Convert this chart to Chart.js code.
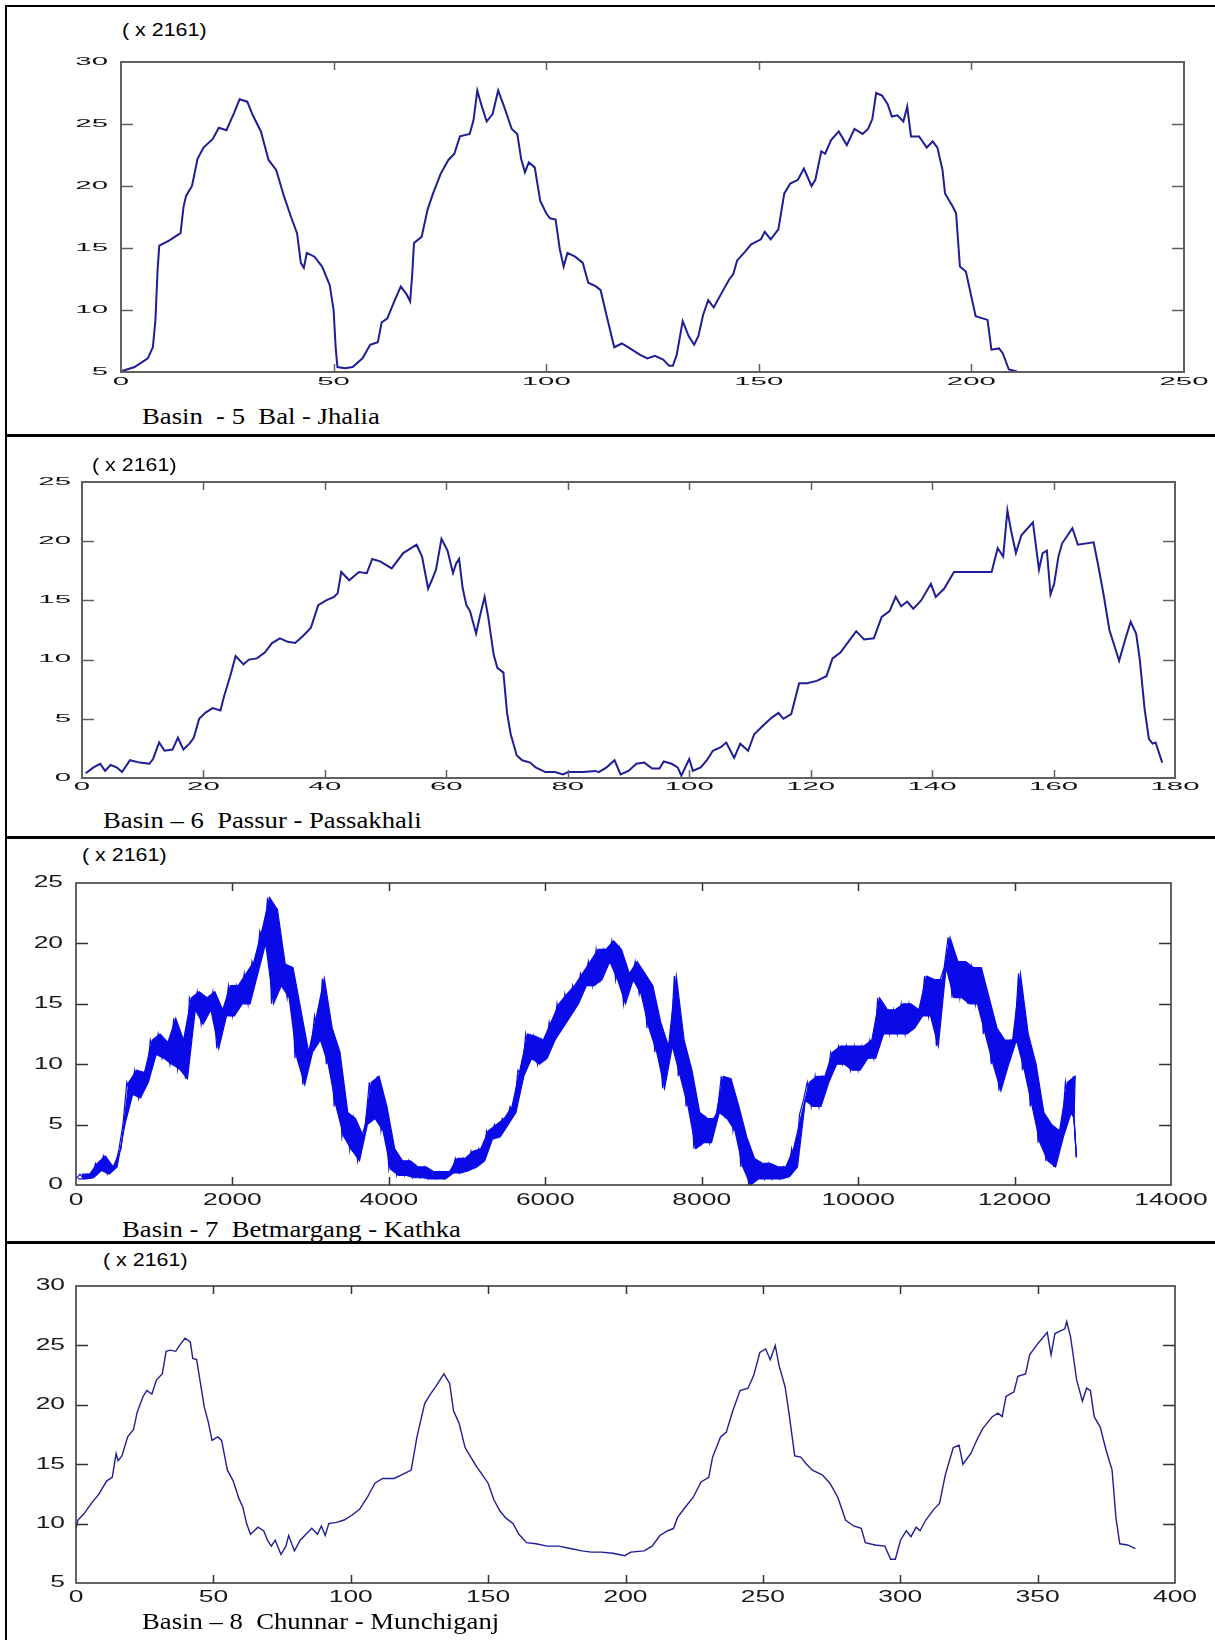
<!DOCTYPE html>
<html>
<head>
<meta charset="utf-8">
<script src="https://cdn.jsdelivr.net/npm/chart.js@4.4.1/dist/chart.umd.min.js"></script>
<style>
  body { margin: 0; background: #fff; width: 1215px; height: 1640px; position: relative; overflow: hidden; }
  .frame { position: absolute; left: 5px; top: 5px; width: 1215px; height: 1640px; border-left: 2px solid #000; border-top: 2px solid #000; }
  .rule { position: absolute; left: 5px; width: 1215px; height: 3px; background: #000; }
  .mult { position: absolute; font-family: "Liberation Sans", Arial, sans-serif; font-size: 18px; line-height: 20px;
          transform: scaleX(1.19); transform-origin: 0 50%; white-space: pre; color: #000; }
  .caption { position: absolute; font-family: "Liberation Serif", "Times New Roman", serif; font-size: 23px; line-height: 26px;
             transform: scaleX(1.16); transform-origin: 0 50%; white-space: pre; color: #000; }
  canvas { position: absolute; }
</style>
</head>
<body>
<div class="frame"></div>
<div class="rule" style="top:434px"></div>
<div class="rule" style="top:836px"></div>
<div class="rule" style="top:1241px"></div>

<canvas id="basin5"></canvas>
<canvas id="basin6"></canvas>
<canvas id="basin7"></canvas>
<canvas id="basin8"></canvas>

<div class="mult" style="left:122px;top:20px">( x 2161)</div>
<div class="mult" style="left:92px;top:455px">( x 2161)</div>
<div class="mult" style="left:82px;top:845px">( x 2161)</div>
<div class="mult" style="left:103px;top:1250px">( x 2161)</div>

<div class="caption" style="left:142px;top:404px">Basin  - 5  Bal - Jhalia</div>
<div class="caption" style="left:103px;top:808px">Basin – 6  Passur - Passakhali</div>
<div class="caption" style="left:122px;top:1217px">Basin - 7  Betmargang - Kathka</div>
<div class="caption" style="left:142px;top:1609px">Basin – 8  Chunnar - Munchiganj</div>

<script>
// Basin 5 (Bal - Jhalia), values in units of 2161
const p1X = [0,3.2,6.3,7.5,8.1,8.6,9,11.3,14,14.7,
  15.3,16.7,18,19.4,21.6,23,24.8,26.6,27.9,29.7,
  31,32.9,34.7,36.5,38.3,40.1,41.4,42.3,43,43.7,
  45.5,47.3,49.1,50,50.5,50.9,52.7,54.5,56.8,58.6,
  60.4,61.3,62.6,64.4,65.8,67.1,68,68.5,68.9,70.7,
  72.1,73.4,75.2,77,78.4,79.7,82,82.9,83.8,84.7,
  86,87.4,88.7,90.1,91.9,93.2,94.1,95,95.9,97.3,
  98.6,100,100.9,102.2,103.2,104.1,105,106.8,108.6,109.9,
  111.7,112.8,114.1,116,117.8,119.7,122,123.8,125.6,127.5,
  128.9,129.8,130.7,132.1,133.5,134.8,135.8,136.9,138.1,139.4,
  141.3,143.1,144,144.9,146.8,148.2,150.5,151.4,152.8,154.6,
  156,157.4,159.2,160.6,162.4,163.3,164.7,165.6,167,168.8,
  170.7,172.5,174.4,175.7,176.7,177.6,179,180.3,181.3,182.6,
  184,184.9,185.8,187.7,189.5,190.9,192,193.2,193.8,195.5,
  196.4,197.3,198.7,201,203.8,204.7,206.5,207.4,208.8,210.7];
const p1Y = [5.05,5.4,6.1,7.0,9.2,13.2,15.2,15.6,16.2,18.3,
  19.2,20,22.2,23.1,23.8,24.7,24.5,25.9,27.0,26.8,
  25.7,24.4,22.1,21.3,19.2,17.4,16.2,13.8,13.4,14.6,
  14.3,13.5,12.0,10.0,6.9,5.4,5.3,5.4,6.1,7.2,
  7.4,9.0,9.3,10.8,11.9,11.3,10.7,12.9,15.4,15.9,
  18.1,19.4,21,22.1,22.6,24.0,24.2,25.3,27.7,26.6,
  25.2,25.8,27.7,26.4,24.6,24.2,22.2,21.1,21.9,21.5,
  18.8,17.8,17.4,17.3,14.9,13.5,14.6,14.3,13.8,12.2,
  11.9,11.6,9.7,7.0,7.3,6.9,6.4,6.1,6.3,6.0,
  5.5,5.5,6.4,9.1,7.9,7.2,7.9,9.6,10.8,10.2,
  11.4,12.5,12.9,14.0,14.7,15.3,15.7,16.3,15.7,16.5,
  19.4,20.2,20.5,21.4,20.0,20.5,22.8,22.6,23.7,24.4,
  23.3,24.6,24.2,24.6,25.4,27.5,27.3,26.6,25.6,25.7,
  25.2,26.4,24.0,24.0,23.1,23.6,23.1,21.3,19.4,18.4,
  17.8,13.5,13.1,9.5,9.2,6.8,6.9,6.5,5.2,5.05];

// Basin 6 (Passur - Passakhali)
const p2X = [0.6,1.9,3.0,3.8,4.7,5.7,6.6,7.9,9.5,11.1,
  11.7,12.7,13.6,14.9,15.8,16.7,17.7,18.4,19.3,20.3,
  21.5,22.8,23.4,24.4,25.3,26.6,27.5,28.8,30.1,31.3,
  32.6,33.9,35.1,36.4,37.7,38.9,40.2,41.5,42.1,42.7,
  44,45.6,46.9,47.8,49.1,51,52.9,55.1,56,57,
  57.6,58.3,59.2,60.2,61.1,61.6,62.1,62.7,63.3,63.9,
  64.9,65.5,66.3,66.9,67.8,68.4,69.4,70,70.6,71.6,
  72.5,73.8,74.7,76.3,77.9,79.2,80.1,82.6,84.5,85.1,
  86.4,87.7,88.7,90,91.3,92.6,93.9,95.1,95.8,97.1,
  98.1,98.7,100,100.6,101.9,102.9,103.9,105.2,106.1,107.4,
  108.4,109.7,110.7,112.3,113.6,114.7,115.5,116.8,118.1,119.4,
  121,122.6,123.6,124.9,126.2,127.5,128.8,130.4,131.7,133,
  134,134.9,135.9,136.9,138.2,139.8,140.6,142,143.6,149.8,
  150.8,151.7,152.4,153,153.8,154.7,156.6,157.6,158.2,158.9,
  159.5,160.1,160.8,161.4,163.1,164,166.6,167.3,168.2,169.2,
  170.8,171.8,172.7,173.6,174.2,175,175.7,176.3,176.8,177.9];
const p2Y = [0.4,0.9,1.2,0.6,1.1,0.9,0.5,1.5,1.3,1.2,
  1.6,3.0,2.3,2.4,3.4,2.4,2.9,3.4,5.0,5.5,
  5.9,5.7,6.9,8.6,10.3,9.6,10.0,10.1,10.6,11.4,
  11.8,11.5,11.4,12.0,12.7,14.6,15.0,15.3,15.6,17.4,
  16.7,17.4,17.3,18.5,18.3,17.7,19.0,19.7,18.7,16.0,
  16.7,17.6,20.2,19.2,17.3,18.1,18.5,16.0,14.6,14.1,
  12.2,13.6,15.3,13.6,10.4,9.3,8.9,5.5,3.7,1.9,
  1.5,1.3,0.9,0.5,0.5,0.3,0.5,0.5,0.6,0.5,
  0.9,1.5,0.3,0.6,1.2,1.3,0.8,0.8,1.4,1.2,
  0.9,0.2,1.6,0.6,0.9,1.5,2.3,2.6,3.0,1.7,
  2.9,2.3,3.7,4.5,5.1,5.5,5.0,5.4,8.0,8.0,
  8.2,8.6,10.1,10.6,11.5,12.4,11.7,11.8,13.6,14.1,
  15.3,14.5,14.9,14.3,15.0,16.4,15.3,16.0,17.4,17.4,
  19.4,18.7,22.6,20.9,19.0,20.5,21.6,17.6,19.0,19.2,
  15.5,16.4,18.7,19.8,21.1,19.7,19.9,18.1,15.6,12.5,
  9.9,11.7,13.2,12.2,10.0,5.8,3.3,2.9,3.0,1.3];

// Basin 7 (Betmargang - Kathka): dense record, read as low / high of the band in every 100-step bin
const p3Bin = 100;
const p3Lo = [0.5,0.5,0.6,1.2,0.9,1.5,5.0,7.5,7.2,8.5,
  10.8,10.5,10.0,9.6,8.8,14.5,13.3,14.5,11.3,14.0,
  14.0,15.0,15.0,17.5,20.0,15.0,16.5,15.5,10.5,8.3,
  11.0,12.0,10.0,6.5,4.0,2.9,2.0,5.0,5.5,4.5,
  1.3,0.8,0.8,0.6,0.6,0.5,0.5,0.5,1.0,1.0,
  1.2,1.5,2.0,3.8,4.0,5.0,6.0,9.0,10.5,10.0,
  10.5,12.0,13.0,14.0,15.0,16.5,16.5,17.0,18.5,17.0,
  15.0,17.0,15.8,13.0,11.0,8.0,11.5,9.0,6.5,3.0,
  3.5,3.5,6.0,5.5,4.5,1.5,0.0,0.5,0.5,0.5,
  0.5,0.7,1.5,7.0,6.5,6.5,8.5,10.0,10.0,9.5,
  9.5,10.5,10.5,12.5,12.5,12.5,12.5,13.0,14.0,14.0,
  11.5,18.0,15.5,15.5,15.0,15.0,12.5,10.0,7.8,10.0,
  12.0,9.5,6.5,3.5,2.0,1.5,4.0,6.0];
const p3Hi = [0.9,0.9,1.8,2.4,1.5,3.0,8.5,9.5,9.3,12.0,
  12.5,11.8,13.8,12.0,15.5,16.0,15.5,16.0,14.5,16.5,
  16.5,17.5,18.5,21.0,23.8,22.8,18.3,18.0,14.5,11.0,
  14.0,17.1,13.0,11.0,6.0,5.5,4.0,8.5,9.0,6.5,
  3.0,2.0,2.0,1.5,1.5,1.1,1.1,1.1,2.2,2.2,
  2.8,3.0,4.5,5.0,5.5,6.5,9.5,12.5,12.3,12.0,
  13.5,15.0,15.8,16.5,17.5,18.5,19.5,19.5,20.2,19.5,
  17.5,18.5,17.5,16.5,13.5,11.5,17.3,12.0,9.5,6.0,
  5.5,5.5,9.0,8.8,6.5,4.0,2.2,1.8,1.8,1.5,
  1.5,3.0,5.8,8.5,9.0,9.0,11.0,11.5,11.5,11.5,
  11.5,12.0,15.5,14.5,14.5,15.0,15.0,14.5,17.3,17.0,
  17.0,20.5,18.5,18.5,18.0,18.0,15.5,13.0,12.0,12.0,
  17.5,12.5,10.0,6.0,5.0,4.5,8.5,9.0];
const p3TailX = [12760, 12790];
const p3TailY = [5.5, 2.3];

// Basin 8 (Chunnar - Munchiganj)
const p4X = [0,0.7,2.8,5.6,8.4,11.2,13.2,14.6,15.3,16.7,
  18.8,20.9,22.3,24.4,25.8,27.6,29.3,31.4,32.8,34.2,
  36.3,37.7,39.7,41.6,42.5,43.9,45.3,46.7,48.1,49.5,
  51.6,53,55.1,57.2,59.3,60.7,62.1,63.5,64.9,66.2,
  68.3,69.7,71.1,72.5,74.6,76.4,77.4,79.5,81.6,83.7,
  85.8,87.9,89.3,90.7,92,94.8,97.6,100.4,103.2,106,
  108.8,111.6,115.8,118.5,122,124.1,126.9,129,131.1,133.9,
  136,137.4,139.5,141.6,143.7,145.8,147.9,150,152.1,154.2,
  156.3,159.1,161.2,164,167.4,171.5,175.7,179.9,184.1,187.6,
  191.2,195.4,199.7,201.9,206.8,209.7,212.5,215.4,217.5,218.9,
  221.8,224.6,227.5,230.3,231.7,234.6,236.7,238.9,241.7,244.6,
  246.7,248.9,251,252.7,254.5,255.9,258.1,259.5,261.6,263.8,
  265.9,268,271.6,274.4,277.3,280.1,283,285.8,287.3,290.8,
  294.4,296.5,298.2,300.1,302.2,303.9,305.8,307.2,309.3,312.2,
  314.3,316.4,319.3,321.4,322.8,325.7,327.8,330,333.5,335.6,
  337.1,338.5,341.4,342.8,345.6,347.1,349.9,353.5,354.9,356.3,
  359.9,360.6,362,364.2,366.3,367.8,369.2,370.6,372.8,374.9,
  377.1,378.5,379.9,382.7,385.6];
const p4Y = [9.6,10.3,10.8,11.7,12.5,13.6,13.9,15.9,15.3,15.7,
  17.3,17.9,19.4,20.7,21.2,20.9,22.1,22.6,24.5,24.6,
  24.5,25.0,25.6,25.3,23.9,23.8,21.8,19.8,18.6,17.0,
  17.3,17.0,14.5,13.6,12.1,11.4,10.0,9.1,9.4,9.7,
  9.4,8.6,8.1,8.6,7.4,8.1,9.0,7.7,8.6,9.1,
  9.6,9.1,9.8,9.0,10.0,10.1,10.3,10.7,11.2,12.2,
  13.4,13.8,13.8,14.1,14.5,17.3,20.1,20.9,21.6,22.6,
  21.8,19.5,18.4,16.4,15.6,14.8,14.1,13.4,12.0,11.1,
  10.5,10.0,9.1,8.4,8.3,8.1,8.1,7.9,7.7,7.6,
  7.6,7.5,7.3,7.6,7.7,8.1,9.0,9.4,9.6,10.5,
  11.4,12.2,13.5,13.9,15.6,17.3,17.7,19.4,21.2,21.4,
  22.5,24.4,24.7,23.8,25.0,23.3,21.5,19.3,15.7,15.6,
  15.0,14.5,14.1,13.4,12.2,10.3,9.8,9.6,8.4,8.2,
  8.1,7.0,7.0,8.6,9.4,8.9,9.7,9.4,10.3,11.2,
  11.7,14.1,16.4,16.6,15.0,15.9,17.0,18.0,19.0,19.3,
  19.0,20.7,21.1,22.4,22.6,24.2,25.1,26.1,24.2,26.0,
  26.4,27.0,25.7,22.1,20.3,21.4,21.2,19.0,18.1,16.2,
  14.5,10.5,8.3,8.2,7.9];

// axis ranges: [min, max, step]
const p1XAxis = [0, 250, 50],     p1YAxis = [5, 30, 5];
const p2XAxis = [0, 180, 20],     p2YAxis = [0, 25, 5];
const p3XAxis = [0, 14000, 2000], p3YAxis = [0, 25, 5];
const p4XAxis = [0, 400, 50],     p4YAxis = [5, 30, 5];

function zip(xs, ys) {
  return xs.map((x, i) => ({ x: x, y: ys[i] }));
}

// one edge of the Basin 7 band, lows and highs offset by half a bin so the edges stay ragged
function edge(vals, step, shift, tailX, tailY) {
  return vals.map((v, i) => ({ x: i * step + shift, y: v })).concat(zip(tailX, tailY));
}

// low -> high zigzag inside each bin, gives the band its spiky texture
function zigzag(lo, hi, step, tailX, tailY) {
  const pts = [];
  lo.forEach((v, i) => {
    pts.push({ x: i * step, y: v });
    pts.push({ x: i * step + step / 2, y: hi[i] });
  });
  return pts.concat(zip(tailX, tailY));
}

// MATLAB style box: frame, inward ticks on all four sides, stretched tick labels
const boxTicks = {
  id: 'boxTicks',
  afterDraw(chart, args, o) {
    const ctx = chart.ctx, a = chart.chartArea;
    const xs = chart.scales.x, ys = chart.scales.y;
    ctx.save();
    ctx.strokeStyle = o.boxColor;
    ctx.lineWidth = o.boxWidth;
    ctx.strokeRect(a.left, a.top, a.right - a.left, a.bottom - a.top);
    ctx.lineWidth = o.tickWidth;
    ctx.beginPath();
    xs.ticks.forEach(t => {
      if (t.value <= xs.min || t.value >= xs.max) return;
      const px = Math.round(xs.getPixelForValue(t.value)) + 0.5;
      ctx.moveTo(px, a.bottom); ctx.lineTo(px, a.bottom - o.tickV);
      ctx.moveTo(px, a.top); ctx.lineTo(px, a.top + o.tickV);
    });
    ys.ticks.forEach(t => {
      if (t.value <= ys.min || t.value >= ys.max) return;
      const py = Math.round(ys.getPixelForValue(t.value)) + 0.5;
      ctx.moveTo(a.left, py); ctx.lineTo(a.left + o.tickH, py);
      ctx.moveTo(a.right, py); ctx.lineTo(a.right - o.tickH, py);
    });
    ctx.stroke();

    ctx.fillStyle = o.labelColor;
    ctx.font = o.font;
    ctx.textBaseline = 'middle';
    xs.ticks.forEach(t => {
      ctx.save();
      ctx.translate(xs.getPixelForValue(t.value), a.bottom + o.xGap);
      ctx.scale(o.stretch, 1);
      ctx.textAlign = 'center';
      ctx.fillText(String(t.value), 0, 0);
      ctx.restore();
    });
    ys.ticks.forEach(t => {
      ctx.save();
      ctx.translate(a.left - o.yGap, ys.getPixelForValue(t.value));
      ctx.scale(o.stretch, 1);
      ctx.textAlign = 'right';
      ctx.fillText(String(t.value), 0, 0);
      ctx.restore();
    });
    ctx.restore();
  }
};

function drawPanel(id, c, plot, datasets, xAxis, yAxis, look) {
  const cv = document.getElementById(id);
  cv.width = c.w;
  cv.height = c.h;
  cv.style.left = c.x + 'px';
  cv.style.top = c.y + 'px';
  return new Chart(cv, {
    type: 'line',
    data: { datasets: datasets },
    plugins: [boxTicks],
    options: {
      responsive: false,
      animation: false,
      events: [],
      elements: { point: { radius: 0 }, line: { tension: 0 } },
      layout: { padding: { top: plot.t - c.y, right: c.x + c.w - plot.r, left: 0, bottom: 0 } },
      plugins: {
        legend: { display: false },
        tooltip: { enabled: false },
        boxTicks: look
      },
      scales: {
        x: {
          type: 'linear', min: xAxis[0], max: xAxis[1],
          ticks: { stepSize: xAxis[2], display: false },
          grid: { display: false }, border: { display: false },
          afterFit: s => { s.height = c.y + c.h - plot.b; s.paddingLeft = 0; s.paddingRight = 0; }
        },
        y: {
          type: 'linear', min: yAxis[0], max: yAxis[1],
          ticks: { stepSize: yAxis[2], display: false },
          grid: { display: false }, border: { display: false },
          afterFit: s => { s.width = plot.l - c.x; s.paddingTop = 0; s.paddingBottom = 0; }
        }
      }
    }
  });
}

const navy = '#1e1e96';
const blue = '#0a0ae8';

const oldStyle = { boxColor: '#606060', boxWidth: 2, tickWidth: 1.5, tickV: 8, tickH: 12,
                   labelColor: '#111', font: '10.5px "Liberation Sans", Arial, sans-serif', stretch: 2.8 };
const newStyle = { boxColor: '#333333', boxWidth: 1.5, tickWidth: 1.5, tickV: 8, tickH: 12,
                   labelColor: '#1a1a1a', font: '16px "Liberation Sans", Arial, sans-serif', stretch: 1.65 };

drawPanel('basin5', { x: 10, y: 45, w: 1202, h: 355 }, { l: 121, t: 62, r: 1184, b: 372 },
  [{ data: zip(p1X, p1Y), borderColor: navy, borderWidth: 2, fill: false }],
  p1XAxis, p1YAxis,
  Object.assign({}, oldStyle, { xGap: 10, yGap: 13 }));

drawPanel('basin6', { x: 10, y: 470, w: 1202, h: 335 }, { l: 82, t: 482, r: 1175, b: 778 },
  [{ data: zip(p2X, p2Y), borderColor: navy, borderWidth: 2, fill: false }],
  p2XAxis, p2YAxis,
  Object.assign({}, oldStyle, { xGap: 9, yGap: 11 }));

drawPanel('basin7', { x: 10, y: 875, w: 1202, h: 340 }, { l: 76, t: 883, r: 1171, b: 1185 },
  [
    { data: edge(p3Hi, p3Bin, p3Bin * 0.75, p3TailX, p3TailY), borderColor: blue, borderWidth: 1.2,
      backgroundColor: blue, fill: '+1' },
    { data: edge(p3Lo, p3Bin, p3Bin * 0.25, p3TailX, p3TailY), borderColor: blue, borderWidth: 1.2, fill: false },
    { data: zigzag(p3Lo, p3Hi, p3Bin, p3TailX, p3TailY), borderColor: blue, borderWidth: 1.2, fill: false }
  ],
  p3XAxis, p3YAxis,
  Object.assign({}, newStyle, { xGap: 16, yGap: 13 }));

drawPanel('basin8', { x: 10, y: 1275, w: 1202, h: 340 }, { l: 76, t: 1286, r: 1175, b: 1583 },
  [{ data: zip(p4X, p4Y), borderColor: navy, borderWidth: 1.4, fill: false }],
  p4XAxis, p4YAxis,
  Object.assign({}, newStyle, { xGap: 15, yGap: 11 }));
</script>
</body>
</html>
